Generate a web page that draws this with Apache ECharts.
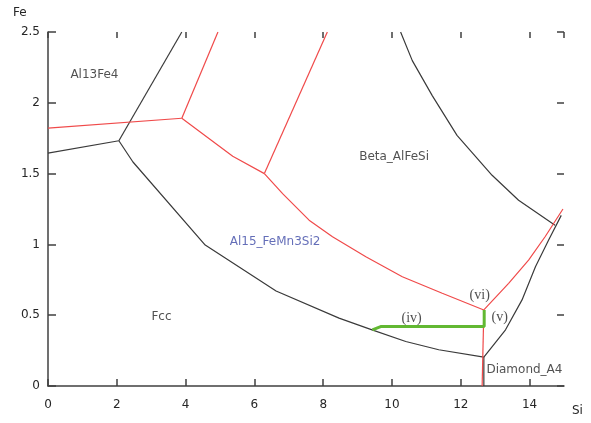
<!DOCTYPE html>
<html>
<head>
<meta charset="utf-8">
<script src="https://cdn.jsdelivr.net/npm/echarts@6/dist/echarts.min.js"></script>
<style>
html,body{margin:0;padding:0;background:#fff;}
#chart{width:591px;height:423px;}
</style>
</head>
<body>
<div id="chart"></div>
<script>
// ---- Data (Si, Fe) ----
var xTicks = [0, 2, 4, 6, 8, 10, 12, 14];
var yTicks = [0, 0.5, 1, 1.5, 2, 2.5];

// black boundaries
var blackLeft = [[0, 1.645], [2.06, 1.732]];
var blackUp = [[2.06, 1.732], [3.89, 2.5]];
var blackFcc = [[2.06, 1.732], [2.47, 1.582], [4.57, 0.995], [6.63, 0.671], [8.46, 0.479], [9.42, 0.396], [10.40, 0.314], [11.36, 0.256], [12.67, 0.204]];
var blackVert = [[12.67, 0.204], [12.67, 0]];
var blackRight = [[12.67, 0.204], [13.30, 0.397], [13.78, 0.608], [14.17, 0.842], [14.55, 1.030], [14.92, 1.205]];
var blackBeta = [[10.25, 2.5], [10.59, 2.298], [11.17, 2.051], [11.89, 1.770], [12.91, 1.488], [13.68, 1.312], [14.74, 1.136]];

// red boundaries
var redLeft = [[0, 1.821], [3.89, 1.891]];
var redUp1 = [[3.89, 1.891], [4.94, 2.5]];
var redMid = [[3.89, 1.891], [5.37, 1.622], [6.29, 1.5]];
var redUp2 = [[6.29, 1.5], [8.12, 2.5]];
var redAl15 = [[6.29, 1.5], [6.82, 1.359], [7.59, 1.171], [8.27, 1.054], [9.24, 0.913], [10.30, 0.772], [11.46, 0.655], [12.67, 0.537]];
var redRight = [[12.67, 0.537], [13.39, 0.725], [13.97, 0.889], [14.45, 1.054], [14.97, 1.250]];
var redVert = [[12.67, 0.537], [12.62, 0]];

// green path
var greenPath = [[9.43, 0.396], [9.67, 0.42], [12.68, 0.42], [12.68, 0.537]];

// region labels
var regionNames = ['Al13Fe4', 'Beta_AlFeSi', 'Al15_FeMn3Si2', 'Fcc', 'Diamond_A4'];
var regionX = [1.35, 10.06, 6.60, 3.30, 13.85];
var regionY = [2.20, 1.617, 1.016, 0.49, 0.115];
// path annotations
var pathNames = ['(iv)', '(vi)', '(v)'];
var pathX = [10.57, 12.55, 13.13];
var pathY = [0.479, 0.643, 0.486];

var BLACK = '#3a3a3a', RED = '#f04a4a', GREEN = '#62b832';
function lineSeries(data, color, width) {
  return {type: 'line', data: data, xAxisIndex: 0, yAxisIndex: 0, symbol: 'none', silent: true,
    lineStyle: {color: color, width: width || 1.2}, z: width > 2 ? 4 : 3, animation: false};
}

var series = [
  lineSeries(blackLeft, BLACK), lineSeries(blackUp, BLACK), lineSeries(blackFcc, BLACK),
  lineSeries(blackVert, BLACK), lineSeries(blackRight, BLACK), lineSeries(blackBeta, BLACK),
  lineSeries(redLeft, RED), lineSeries(redUp1, RED), lineSeries(redMid, RED), lineSeries(redUp2, RED),
  lineSeries(redAl15, RED), lineSeries(redRight, RED), lineSeries(redVert, RED),
  lineSeries(greenPath, GREEN, 3)
];

var regionData = regionNames.map(function (n, i) {
  return {name: n, value: [regionX[i], regionY[i]],
    label: {color: n === 'Al15_FeMn3Si2' ? '#3d4aa6' : '#262626'}};
});
series.push({type: 'scatter', data: regionData, symbolSize: 0, silent: true, animation: false, z: 6,
  label: {show: true, position: 'inside', formatter: '{b}', fontFamily: 'DejaVu Sans', fontSize: 12}});

var pathData = pathNames.map(function (n, i) { return {name: n, value: [pathX[i], pathY[i]]}; });
series.push({type: 'scatter', data: pathData, symbolSize: 0, silent: true, animation: false, z: 6,
  label: {show: true, position: 'inside', formatter: '{b}', fontFamily: 'Liberation Serif', fontSize: 14, color: '#222'}});

// mirror axes (ticks only) drawn with a phantom, invisible series so they render
series.push({type: 'line', data: [], xAxisIndex: 1, yAxisIndex: 1, symbol: 'none', silent: true});

var chart = echarts.init(document.getElementById('chart'), null, {renderer: 'canvas'});
var TICK = {color: '#404040', width: 1.5};
chart.setOption({
  animation: false,
  backgroundColor: '#ffffff',
  grid: {left: 48, right: 27, top: 32, bottom: 37, containLabel: false},
  xAxis: [
    {type: 'value', min: 0, max: 15, interval: 2, position: 'bottom', splitLine: {show: false},
      axisLine: {show: true, onZero: false, lineStyle: {color: '#404040', width: 1.5}},
      axisTick: {show: true, inside: true, length: 7, lineStyle: TICK},
      axisLabel: {show: true, margin: 13, color: '#262626', fontFamily: 'DejaVu Sans', fontSize: 12, showMaxLabel: false,
        formatter: function (v) { return xTicks.indexOf(v) >= 0 ? String(v) : ''; }}},
    {type: 'value', min: 0, max: 15, interval: 2, position: 'top', splitLine: {show: false},
      axisLine: {show: true, onZero: false, lineStyle: {color: 'rgba(0,0,0,0)', width: 0}},
      axisTick: {show: true, inside: true, length: 6, lineStyle: TICK},
      axisLabel: {show: false}}
  ],
  yAxis: [
    {type: 'value', min: 0, max: 2.5, interval: 0.5, position: 'left', splitLine: {show: false},
      axisLine: {show: true, onZero: false, lineStyle: {color: '#404040', width: 1.5}},
      axisTick: {show: true, inside: true, length: 8, lineStyle: TICK},
      axisLabel: {show: true, margin: 8, color: '#262626', fontFamily: 'DejaVu Sans', fontSize: 12,
        formatter: function (v) { return yTicks.indexOf(v) >= 0 ? String(v) : ''; }}},
    {type: 'value', min: 0, max: 2.5, interval: 0.5, position: 'right', splitLine: {show: false},
      axisLine: {show: true, onZero: false, lineStyle: {color: 'rgba(0,0,0,0)', width: 0}},
      axisTick: {show: true, inside: true, length: 7, lineStyle: TICK},
      axisLabel: {show: false}}
  ],
  graphic: [
    {type: 'text', left: 13, top: 7, style: {text: 'Fe', fill: '#262626', font: '12px "DejaVu Sans"'}},
    {type: 'text', left: 572, top: 405, style: {text: 'Si', fill: '#262626', font: '12px "DejaVu Sans"'}}
  ],
  series: series
});
</script>
</body>
</html>
